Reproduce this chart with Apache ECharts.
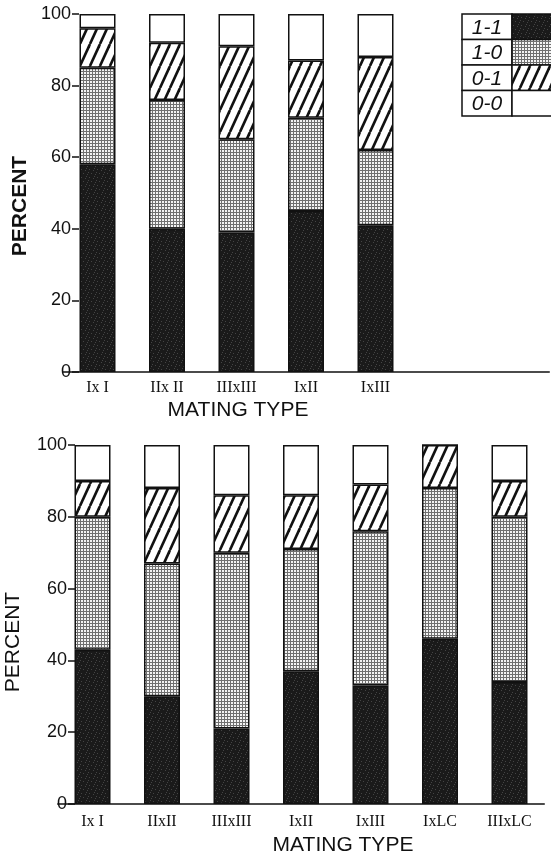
<!DOCTYPE html>
<html>
<head>
<meta charset="utf-8">
<script src="https://cdn.jsdelivr.net/npm/echarts@6/dist/echarts.min.js"></script>
<style>
html,body{margin:0;padding:0;background:#fff;}
#chart{width:551px;height:859px;}
</style>
</head>
<body>
<div id="chart"></div>
<script>
// ---- data ----
var seriesNames = ['1-1', '1-0', '0-1', '0-0'];
var topCategories = ['Ix I', 'IIx II', 'IIIxIII', 'IxII', 'IxIII'];
var top11 = [58, 40, 39, 45, 41];
var top10 = [27, 36, 26, 26, 21];
var top01 = [11, 16, 26, 16, 26];
var top00 = [4, 8, 9, 13, 12];
var bottomCategories = ['Ix I', 'IIxII', 'IIIxIII', 'IxII', 'IxIII', 'IxLC', 'IIIxLC'];
var bot11 = [43, 30, 21, 37, 33, 46, 34];
var bot10 = [37, 37, 49, 34, 43, 42, 46];
var bot01 = [10, 21, 16, 15, 13, 12, 10];
var bot00 = [10, 12, 14, 14, 11, 0, 10];
var yTicks = [0, 20, 40, 60, 80, 100];

// ---- patterns ----
function makeDark() {
  var c = document.createElement('canvas'); c.width = 8; c.height = 8;
  var g = c.getContext('2d');
  g.fillStyle = '#1a1a1a'; g.fillRect(0, 0, 8, 8);
  g.fillStyle = '#444444';
  var pts = [[1,1],[5,2],[3,5],[7,6],[0,4],[6,0]];
  pts.forEach(function (p) { g.fillRect(p[0], p[1], 1, 1); });
  return c;
}
function makeGrid() {
  var c = document.createElement('canvas'); c.width = 3; c.height = 3;
  var g = c.getContext('2d');
  g.fillStyle = '#707070'; g.fillRect(0, 0, 3, 3);
  g.fillStyle = '#f4f4f4'; g.fillRect(0, 0, 2, 2);
  return c;
}
function makeHatch() {
  var w = 10, h = 22;
  var c = document.createElement('canvas'); c.width = w; c.height = h;
  var g = c.getContext('2d');
  g.fillStyle = '#ffffff'; g.fillRect(0, 0, w, h);
  g.strokeStyle = '#111111'; g.lineWidth = 2.6;
  for (var k = -1; k <= 1; k++) {
    g.beginPath(); g.moveTo(k * w, h); g.lineTo(k * w + w, 0); g.stroke();
  }
  return c;
}
var fills = [
  { image: makeDark(), repeat: 'repeat' },
  { image: makeGrid(), repeat: 'repeat' },
  { image: makeHatch(), repeat: 'repeat' },
  '#ffffff'
];

var chart = echarts.init(document.getElementById('chart'), null, { renderer: 'canvas' });

var topCats = topCategories.concat(['', '']);
var topData = [top11, top10, top01, top00];
var botData = [bot11, bot10, bot01, bot00];

var series = [];
seriesNames.forEach(function (n, i) {
  series.push({
    name: n, type: 'bar', stack: 'top', xAxisIndex: 0, yAxisIndex: 0,
    barWidth: 36, data: topData[i], silent: true,
    itemStyle: { color: fills[i], borderColor: '#111', borderWidth: 1.5 }
  });
});
seriesNames.forEach(function (n, i) {
  series.push({
    name: n, type: 'bar', stack: 'bot', xAxisIndex: 1, yAxisIndex: 1,
    barWidth: 36, data: botData[i], silent: true,
    itemStyle: { color: fills[i], borderColor: '#111', borderWidth: 1.5 }
  });
});

function yAxis(gi, off) {
  return {
    type: 'value', gridIndex: gi, min: 0, max: 100, interval: 20, offset: off,
    axisLine: { show: false },
    axisTick: { show: true, length: 7, lineStyle: { color: '#111', width: 1.5 } },
    axisLabel: { margin: 8, color: '#111', fontSize: 18, fontFamily: 'Liberation Sans',
      formatter: function (v) { return yTicks.indexOf(v) >= 0 ? String(v) : ''; } },
    splitLine: { show: false }
  };
}
function xAxis(gi, cats, margin) {
  return {
    type: 'category', gridIndex: gi, data: cats,
    axisLine: { show: true, lineStyle: { color: '#111', width: 1.5 } },
    axisTick: { show: false },
    axisLabel: { margin: margin, color: '#111', fontSize: 16, fontFamily: 'Liberation Serif', interval: 0 }
  };
}

// legend table
var legendEls = [];
var lx = 462, ly = 14, rh = 25.5;
seriesNames.forEach(function (n, i) {
  legendEls.push({ type: 'rect', shape: { x: lx, y: ly + i * rh, width: 50, height: rh },
    style: { fill: '#fff', stroke: '#111', lineWidth: 1.5 } });
  legendEls.push({ type: 'rect', shape: { x: lx + 50, y: ly + i * rh, width: 60, height: rh },
    style: { fill: fills[i], stroke: '#111', lineWidth: 1.5 } });
  legendEls.push({ type: 'text', x: lx + 25, y: ly + i * rh + rh / 2 + 1,
    style: { text: n, fill: '#111', fontSize: 21, fontStyle: 'italic', fontFamily: 'Liberation Sans',
      align: 'center', verticalAlign: 'middle' } });
});

var option = {
  animation: false,
  backgroundColor: '#fff',
  grid: [
    { left: 62.75, top: 14, width: 486.5, height: 358, containLabel: false, outerBoundsMode: 'none' },
    { left: 57.75, top: 445, width: 486.5, height: 359, containLabel: false, outerBoundsMode: 'none' }
  ],
  xAxis: [xAxis(0, topCats, 8), xAxis(1, bottomCategories, 10)],
  yAxis: [yAxis(0, -16.25), yAxis(1, -17.25)],
  series: series,
  graphic: [
    { type: 'text', x: 238, y: 410, style: { text: 'MATING TYPE', fill: '#111', fontSize: 21,
      fontFamily: 'Liberation Sans', align: 'center', verticalAlign: 'middle' } },
    { type: 'text', x: 343, y: 845, style: { text: 'MATING TYPE', fill: '#111', fontSize: 21,
      fontFamily: 'Liberation Sans', align: 'center', verticalAlign: 'middle' } },
    { type: 'text', x: 20, y: 206, rotation: Math.PI / 2, style: { text: 'PERCENT', fill: '#111', fontSize: 21,
      fontWeight: 'bold', fontFamily: 'Liberation Sans', align: 'center', verticalAlign: 'middle' } },
    { type: 'text', x: 13, y: 642, rotation: Math.PI / 2, style: { text: 'PERCENT', fill: '#111', fontSize: 21,
      fontFamily: 'Liberation Sans', align: 'center', verticalAlign: 'middle' } }
  ].concat(legendEls)
};
chart.setOption(option);
</script>
</body>
</html>
